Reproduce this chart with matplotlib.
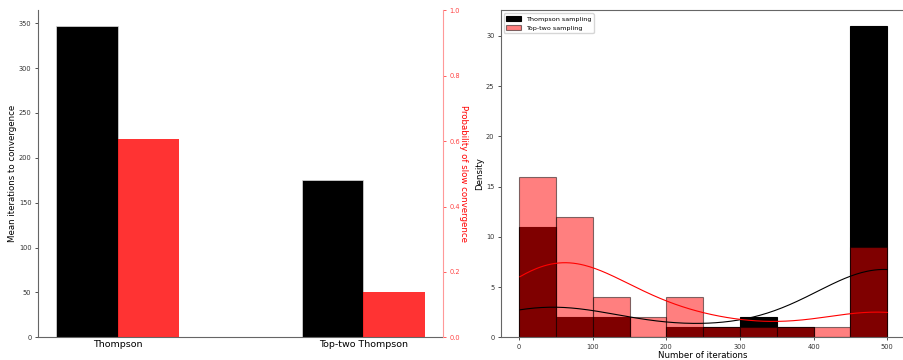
import numpy as np
import matplotlib
matplotlib.use('Agg')
import matplotlib.pyplot as plt
import seaborn as sns

# iterations needed per run (500 = did not converge within the budget)
thompson_iters = [1, 5, 10, 15, 20, 25, 30, 35, 40, 45, 49,
                  70, 80,
                  120, 130,
                  225,
                  275,
                  315, 335,
                  375] + [500] * 31
toptwo_iters = [1, 4, 7, 10, 13, 16, 19, 22, 28, 31, 34, 37, 40, 43, 46, 49,
                55, 58, 62, 66, 70, 74, 76, 80, 84, 88, 92, 95,
                110, 120, 130, 140,
                165, 185,
                205, 215, 235, 245,
                275,
                325,
                375,
                425] + [500] * 9

methods = ['Thompson', 'Top-two Thompson']
mean_iters = [np.mean(thompson_iters), np.mean(toptwo_iters)]
prob_slow = [31 / 51, 7 / 51]
bins = np.arange(0, 501, 50)

fig = plt.figure(figsize=(9.04, 3.6), dpi=100)
ax1 = fig.add_axes([37.7 / 904, 1 - 337.3 / 360, (443 - 37.7) / 904, 327 / 360])
ax3 = fig.add_axes([500.7 / 904, 1 - 337.3 / 360, (905.7 - 500.7) / 904, 327 / 360])

tick_fs = 4.8
label_fs = 6.2

# --- left: bar chart with twin axis ---
x = np.arange(len(methods))
w = 0.25
ax1.bar(x - w / 2, mean_iters, w, color='black', edgecolor='#dddddd', linewidth=0.5)
ax1.set_ylabel('Mean iterations to convergence', fontsize=label_fs, labelpad=1.5)
ax1.set_xticks(x)
ax1.set_xticklabels(methods, fontsize=6.8)
ax1.tick_params(axis='y', labelsize=tick_fs, length=2.5, width=0.6, pad=2, colors='#333333')
ax1.tick_params(axis='x', length=0, pad=2)
ax1.spines['top'].set_visible(False)
ax1.spines['right'].set_visible(False)
for s in ['left', 'bottom']:
    ax1.spines[s].set_color('#666666')

ax2 = ax1.twinx()
ax2.bar(x + w / 2, prob_slow, w, color='red', alpha=0.8)
ax2.set_ylim(0, 1)
ax2.set_ylabel('Probability of slow convergence', fontsize=label_fs, color='red',
               rotation=270, labelpad=6)
ax2.tick_params(axis='y', labelsize=tick_fs, length=2.5, width=0.6, pad=2, colors='#ff4444')
ax2.spines['top'].set_visible(False)
ax2.spines['left'].set_visible(False)
ax2.spines['bottom'].set_visible(False)
ax2.spines['right'].set_color('#ff9999')

# --- right: histograms with kde ---
sns.histplot(thompson_iters, bins=bins, color='black', alpha=1, kde=True,
             edgecolor='black', linewidth=0.8, ax=ax3, label='Thompson sampling',
             line_kws={'linewidth': 0.8})
sns.histplot(toptwo_iters, bins=bins, color='red', alpha=0.5, kde=True,
             edgecolor=(0, 0, 0, 0.5), linewidth=0.8, ax=ax3, label='Top-two sampling',
             line_kws={'linewidth': 0.8})
ax3.lines[0].set_color('black')
ax3.lines[1].set_color('red')
ax3.set_xlabel('Number of iterations', fontsize=label_fs, labelpad=1)
ax3.set_ylabel('Density', fontsize=label_fs, labelpad=1)
ax3.tick_params(labelsize=tick_fs, length=2.5, width=0.6, pad=2, colors='#333333')
for s in ax3.spines.values():
    s.set_color('#666666')
ax3.legend(loc='upper left', fontsize=4.6, handlelength=2.2, handleheight=0.8)

fig.savefig('out.png', dpi=100)
